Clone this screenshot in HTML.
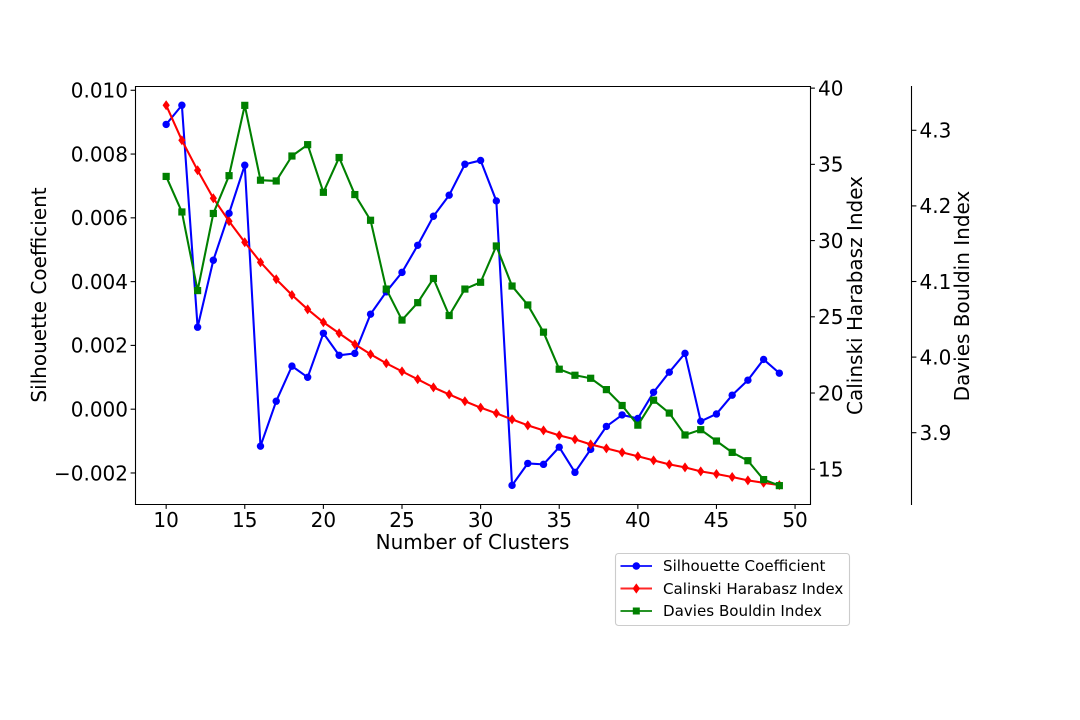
<!DOCTYPE html>
<html lang="en">
<head>
<meta charset="utf-8">
<title>Cluster metrics chart</title>
<style>
  html, body { margin: 0; padding: 0; background: #fff; }
  #chart { display: block; width: 1080px; height: 720px; }
  text { font-family: "DejaVu Sans", "Liberation Sans", sans-serif; fill: #000; }
  .tick-label, .axis-title { font-size: 20px; }
  .legend-label { font-size: 15.1px; }
</style>
</head>
<body>
<svg id="chart" xmlns="http://www.w3.org/2000/svg" width="1080" height="720" viewBox="0 0 1080 720">
  <rect x="0" y="0" width="1080" height="720" fill="#fff"/>
  <g id="ticks"></g>
  <g id="series"></g>
  <g fill="none" stroke="#000" stroke-width="1.1">
    <line x1="135.5" y1="86" x2="135.5" y2="505"/>
    <line x1="810.5" y1="86" x2="810.5" y2="505"/>
    <line x1="135" y1="86.5" x2="811" y2="86.5"/>
    <line x1="135" y1="504.5" x2="811" y2="504.5"/>
    <line x1="911.5" y1="86" x2="911.5" y2="505"/>
  </g>
  <text class="axis-title" x="472.5" y="549" text-anchor="middle">Number of Clusters</text>
  <text class="axis-title" transform="translate(46 295) rotate(-90)" text-anchor="middle">Silhouette Coefficient</text>
  <text class="axis-title" transform="translate(862 295.5) rotate(-90)" text-anchor="middle">Calinski Harabasz Index</text>
  <text class="axis-title" transform="translate(969 296) rotate(-90)" text-anchor="middle">Davies Bouldin Index</text>
  <g>
    <rect x="615.5" y="553.5" width="234" height="72" rx="3" ry="3" fill="#fff" stroke="#ccc" stroke-width="1.1"/>
    <g>
      <line x1="620.5" y1="566" x2="652" y2="566" stroke="#0000ff" stroke-width="2.08" stroke-opacity="0.85"/>
      <circle cx="636.3" cy="566" r="3.8" fill="#0000ff"/>
      <text class="legend-label" x="663" y="571">Silhouette Coefficient</text>
    </g>
    <g>
      <line x1="620.5" y1="588.5" x2="652" y2="588.5" stroke="#ff0000" stroke-width="2.08" stroke-opacity="0.85"/>
      <polygon points="636.3,583.4 640,588.5 636.3,593.6 632.6,588.5" fill="#ff0000"/>
      <text class="legend-label" x="663" y="594">Calinski Harabasz Index</text>
    </g>
    <g>
      <line x1="620.5" y1="611" x2="652" y2="611" stroke="#008000" stroke-width="2.08" stroke-opacity="0.85"/>
      <rect x="632.8" y="607.5" width="7" height="7" fill="#008000"/>
      <text class="legend-label" x="663" y="616">Davies Bouldin Index</text>
    </g>
  </g>
</svg>
<script>
// Chart data
const clusterCounts = [10,11,12,13,14,15,16,17,18,19,20,21,22,23,24,25,26,27,28,29,30,31,32,33,34,35,36,37,38,39,40,41,42,43,44,45,46,47,48,49];
const silhouetteValues = [0.00893,0.00953,0.00257,0.00467,0.00614,0.00765,-0.00116,0.00025,0.00135,0.00100,0.00238,0.00169,0.00175,0.00298,0.00368,0.00429,0.00514,0.00605,0.00671,0.00768,0.00780,0.00653,-0.00239,-0.00170,-0.00173,-0.00119,-0.00198,-0.00126,-0.00054,-0.00018,-0.00029,0.00053,0.00116,0.00175,-0.00038,-0.00015,0.00044,0.00091,0.00156,0.00113];
const calinskiValues = [38.88,36.58,34.61,32.78,31.27,29.89,28.58,27.46,26.43,25.49,24.64,23.92,23.20,22.54,21.95,21.42,20.90,20.37,19.91,19.46,19.04,18.67,18.27,17.88,17.55,17.22,16.96,16.63,16.37,16.11,15.85,15.58,15.32,15.12,14.86,14.69,14.49,14.27,14.11,13.96];
const daviesValues = [4.239,4.192,4.088,4.190,4.240,4.333,4.234,4.233,4.266,4.281,4.218,4.264,4.215,4.181,4.090,4.049,4.072,4.104,4.055,4.090,4.099,4.147,4.094,4.069,4.033,3.984,3.976,3.972,3.957,3.936,3.910,3.943,3.926,3.897,3.904,3.889,3.874,3.863,3.838,3.830];
const xTicks = [10,15,20,25,30,35,40,45,50];
const silhouetteTicks = [-0.002,0,0.002,0.004,0.006,0.008,0.010];
const calinskiTicks = [15,20,25,30,35,40];
const daviesTicks = [3.9,4.0,4.1,4.2,4.3];

// Axis functions
const SVG_NS = 'http://www.w3.org/2000/svg';
const PLOT = { left: 135.5, right: 810, top: 86, bottom: 504 };
function linearScale(d0, d1, r0, r1) {
  return function (v) { return r0 + (v - d0) * (r1 - r0) / (d1 - d0); };
}
const xScale = linearScale(8.05, 50.95, PLOT.left, PLOT.right);
const silhouetteScale = linearScale(-0.002973, 0.010134, PLOT.bottom, PLOT.top);
const calinskiScale = linearScale(12.72, 40.14, PLOT.bottom, PLOT.top);
const daviesScale = linearScale(3.8057, 4.3586, PLOT.bottom, PLOT.top);

function svgEl(tag, attrs) {
  const el = document.createElementNS(SVG_NS, tag);
  Object.keys(attrs).forEach(function (k) { el.setAttribute(k, attrs[k]); });
  return el;
}

const ticksGroup = document.getElementById('ticks');
const seriesGroup = document.getElementById('series');

function addTick(x1, y1, x2, y2, tx, ty, anchor, label, name) {
  const mark = svgEl('line', { x1: x1, y1: y1, x2: x2, y2: y2, stroke: '#000', 'stroke-width': 1.1 });
  
  
  ticksGroup.appendChild(mark);
  const text = svgEl('text', { x: tx, y: ty, 'text-anchor': anchor, class: 'tick-label' });
  
  
  text.textContent = label;
  ticksGroup.appendChild(text);
}

xTicks.forEach(function (v) {
  const x = xScale(v);
  addTick(x, PLOT.bottom, x, PLOT.bottom + 4.9, x, 527, 'middle', String(v), 'x-axis-' + v);
});
silhouetteTicks.forEach(function (v) {
  const y = silhouetteScale(v);
  const label = (v < 0 ? '\u2212' : '') + Math.abs(v).toFixed(3);
  addTick(PLOT.left - 4.9, y, PLOT.left, y, 128, y + 7.3, 'end', label, 'silhouette-axis-' + v);
});
calinskiTicks.forEach(function (v) {
  const y = calinskiScale(v);
  addTick(PLOT.right, y, PLOT.right + 4.9, y, 818, y + 7.3, 'start', String(v), 'calinski-axis-' + v);
});
daviesTicks.forEach(function (v) {
  const y = daviesScale(v);
  addTick(911.5, y, 916.4, y, 919.5, y + 7.3, 'start', v.toFixed(1), 'davies-axis-' + v);
});

function drawMarker(kind, cx, cy, color) {
  if (kind === 'circle') {
    return svgEl('circle', { cx: cx, cy: cy, r: 3.7, fill: color });
  }
  if (kind === 'diamond') {
    const pts = [[cx, cy - 5], [cx + 3.6, cy], [cx, cy + 5], [cx - 3.6, cy]]
      .map(function (p) { return p.join(','); }).join(' ');
    return svgEl('polygon', { points: pts, fill: color });
  }
  return svgEl('rect', { x: cx - 3.6, y: cy - 3.6, width: 7.2, height: 7.2, fill: color });
}

function drawSeries(name, values, scale, color, kind) {
  const group = svgEl('g', {});
  
  
  const pts = values.map(function (v, i) { return xScale(clusterCounts[i]) + ',' + scale(v); }).join(' ');
  const line = svgEl('polyline', { points: pts, fill: 'none', stroke: color, 'stroke-width': 2.08, 'stroke-linejoin': 'round' });
  
  
  group.appendChild(line);
  values.forEach(function (v, i) {
    const marker = drawMarker(kind, xScale(clusterCounts[i]), scale(v), color);
    
    
    group.appendChild(marker);
  });
  seriesGroup.appendChild(group);
}

drawSeries('silhouette', silhouetteValues, silhouetteScale, '#0000ff', 'circle');
drawSeries('calinski', calinskiValues, calinskiScale, '#ff0000', 'diamond');
drawSeries('davies', daviesValues, daviesScale, '#008000', 'square');
</script>
</body>
</html>
